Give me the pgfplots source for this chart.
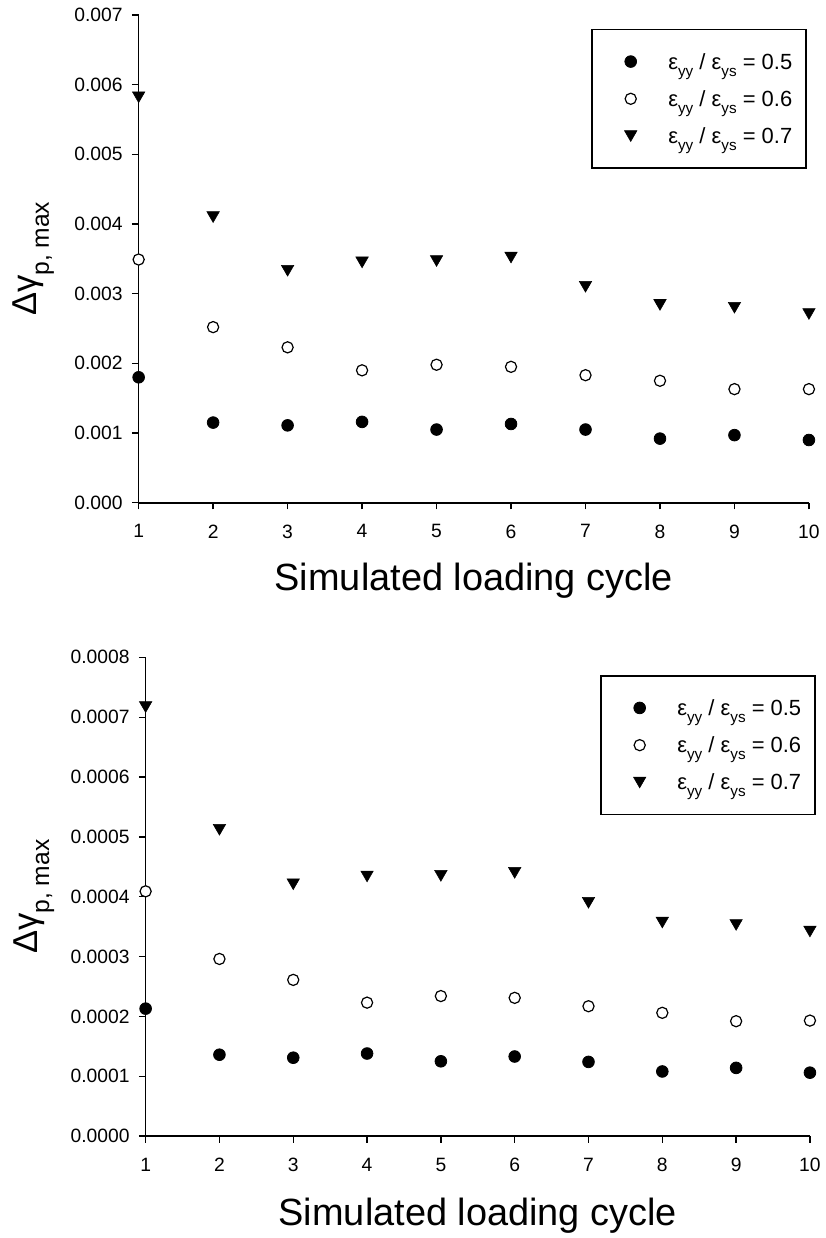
\documentclass[border=0pt]{standalone}
\usepackage{fontspec}
\setmainfont{Liberation Sans}
\usepackage{pgfplots}
\pgfplotsset{compat=1.18}

% legend text: epsilon ratio with lowered subscripts
\newcommand\lsub[1]{\raisebox{-5.3pt}{\fontsize{11.5}{11.5}\selectfont #1}}
\newcommand\ratio[1]{ε\lsub{yy} / ε\lsub{ys} = #1}
\newcommand\ylab{\fontsize{26}{26}\selectfont Δγ\raisebox{-9pt}{\fontsize{18.5}{18.5}\selectfont p, max}}

\pgfplotsset{
  cyc axis/.style={
    scale only axis,
    axis x line*=bottom, axis y line*=left,
    axis line style={line width=1.2pt,-},
    tick style={line width=1pt, black},
    tick align=outside,
    major tick length=5pt,
    xmin=1, xmax=10,
    xtick={1,...,10},
    ymin=0,
    scaled y ticks=false,
    /pgf/number format/assume math mode=true,
    tick label style={font=\fontsize{14.5}{14.5}\selectfont},
    xticklabel style={yshift=-8pt},
    yticklabel style={xshift=-3.5pt},
    xlabel={\fontsize{28.5}{28.5}\selectfont Simulated loading cycle},
    ylabel={\ylab},
    every axis x label/.style={at={(axis description cs:0.5,0)},anchor=center,yshift=-59pt},
    clip=false,
    legend cell align=left,
    legend image code/.code={
      \path[draw=none,fill=none] (0pt,0pt) (47pt,0pt);
      \draw[##1] plot coordinates {(18.75pt,0pt)};
    },
    legend style={draw=black, line width=1.1pt, anchor=north east,
      inner xsep=10.5pt, inner ysep=10pt, row sep=0pt, column sep=0pt,
      nodes={inner sep=0pt, text height=19.6pt, text depth=8.4pt,
        font=\fontsize{16.5}{16.5}\selectfont}},
  },
  dotf/.style={only marks, mark=*, mark size=4.4pt, mark options={draw=black, fill=black, line width=0.6pt}},
  doto/.style={only marks, mark=*, mark size=4.2pt, mark options={draw=black, fill=white, line width=0.9pt}},
  tri/.style={only marks, mark=triangle*, mark size=5.4pt, mark options={draw=black, fill=black, line width=0.4pt, yshift=1.3pt, rotate=180}},
}

\begin{document}
\begin{tikzpicture}
\path (0,0) rectangle (621pt,928.5pt);

\begin{axis}[
  cyc axis,
  at={(104.25pt,550.5pt)}, anchor=origin,
  width=504pt, height=366.75pt,
  ymax=0.007,
  ytick={0,0.001,...,0.007},
  yticklabel style={/pgf/number format/.cd, fixed, fixed zerofill, precision=3},
  every axis y label/.style={at={(axis description cs:0,0.5)},anchor=center,xshift=-79pt,rotate=90},
  legend style={at={(rel axis cs:1,1)}, xshift=-1.5pt, yshift=-10.5pt},
]
\addplot[dotf] coordinates {
  (1,0.00180) (2,0.00115) (3,0.00111) (4,0.00116) (5,0.00105)
  (6,0.00113) (7,0.00105) (8,0.00092) (9,0.00097) (10,0.00090)};
\addplot[doto] coordinates {
  (1,0.00349) (2,0.00252) (3,0.00223) (4,0.00190) (5,0.00198)
  (6,0.00195) (7,0.00183) (8,0.00175) (9,0.00163) (10,0.00163)};
\addplot[tri] coordinates {
  (1,0.00582) (2,0.00410) (3,0.00333) (4,0.00345) (5,0.00347)
  (6,0.00352) (7,0.00310) (8,0.00284) (9,0.00280) (10,0.00271)};
\legend{\ratio{0.5}, \ratio{0.6}, \ratio{0.7}}
\end{axis}

\begin{axis}[
  cyc axis,
  at={(109.5pt,74.25pt)}, anchor=origin,
  width=499.5pt, height=360pt,
  ymax=0.0008,
  ytick={0,0.0001,...,0.0008},
  yticklabel style={/pgf/number format/.cd, fixed, fixed zerofill, precision=4},
  every axis y label/.style={at={(axis description cs:0,0.5)},anchor=center,xshift=-84pt,rotate=90},
  every axis x label/.style={at={(axis description cs:0.5,0)},anchor=center,yshift=-60pt},
  legend style={at={(rel axis cs:1,1)}, xshift=4.5pt, yshift=-13.5pt},
]
\addplot[dotf] coordinates {
  (1,0.000213) (2,0.000136) (3,0.000131) (4,0.000138) (5,0.000125)
  (6,0.000133) (7,0.000124) (8,0.000108) (9,0.000114) (10,0.000106)};
\addplot[doto] coordinates {
  (1,0.000409) (2,0.000296) (3,0.000261) (4,0.000223) (5,0.000234)
  (6,0.000231) (7,0.000217) (8,0.000206) (9,0.000192) (10,0.000193)};
\addplot[tri] coordinates {
  (1,0.000717) (2,0.000512) (3,0.000421) (4,0.000434) (5,0.000435)
  (6,0.000440) (7,0.000390) (8,0.000357) (9,0.000353) (10,0.000342)};
\legend{\ratio{0.5}, \ratio{0.6}, \ratio{0.7}}
\end{axis}
\end{tikzpicture}
\end{document}
